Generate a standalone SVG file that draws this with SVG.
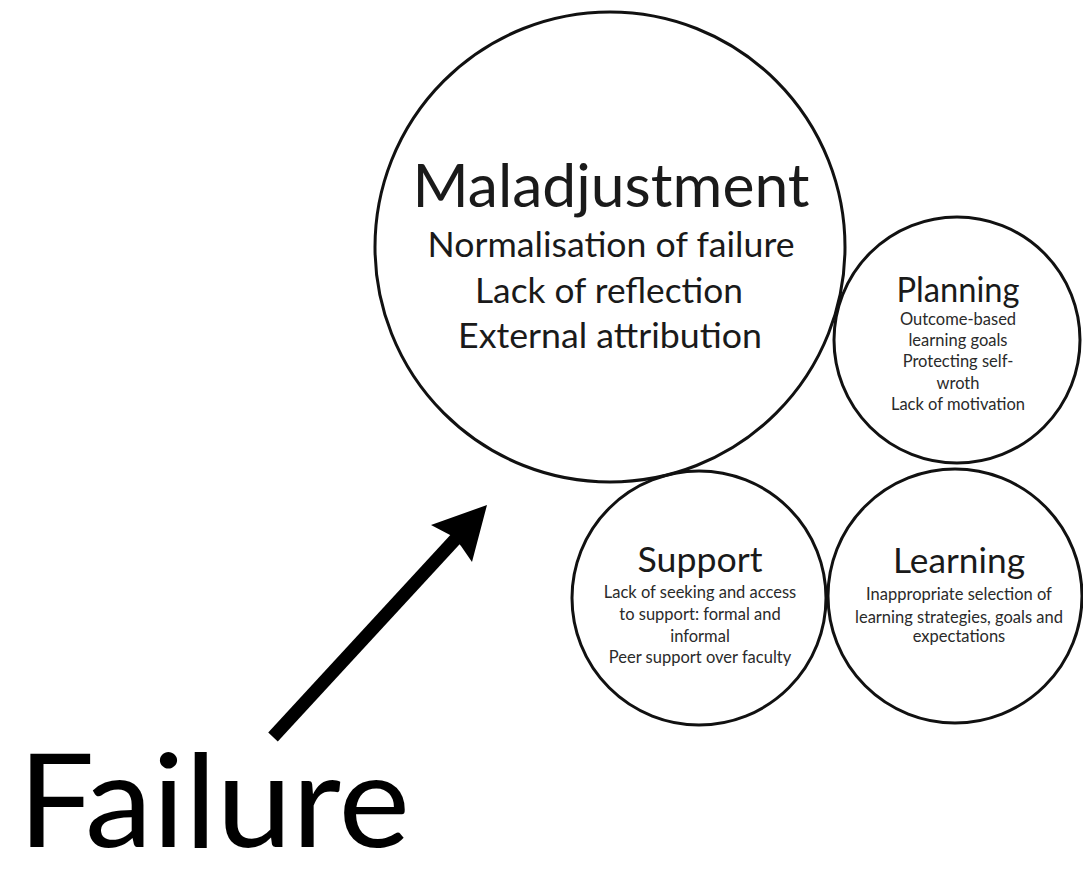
<svg xmlns="http://www.w3.org/2000/svg" width="1083" height="876" viewBox="0 0 1083 876">
<style>
.ring{fill:none;stroke:#111;stroke-width:3}
text{font-family:Lato,"Open Sans","Liberation Sans",sans-serif;text-anchor:middle;fill:#1a1a1a}
.big{font-size:60px}
.mid{font-size:34px}
.ttl{font-size:34px}
.sub{font-size:16.5px;fill:#2a2a2a}
</style>
<rect width="1083" height="876" fill="#fff"/>
<g id="connectors">
<line x1="273" y1="737" x2="462" y2="532" stroke="#000" stroke-width="13" stroke-linecap="butt"/>
<polygon points="487,505 431,525 452,536 461,546 472,562" fill="#000"/>
</g>
<g id="maladjustment">
<circle class="ring" cx="610" cy="247" r="235" stroke-width="2.5"/>
<text class="big" x="611" y="207" textLength="397" lengthAdjust="spacingAndGlyphs">Maladjustment</text>
<text class="mid" x="611" y="257" textLength="367" lengthAdjust="spacingAndGlyphs">Normalisation of failure</text>
<text class="mid" x="609" y="303" textLength="268" lengthAdjust="spacingAndGlyphs">Lack of reflection</text>
<text class="mid" x="610" y="348" textLength="304" lengthAdjust="spacingAndGlyphs">External attribution</text>
</g>
<g id="planning">
<circle class="ring" cx="957" cy="340" r="123"/>
<text class="ttl" x="958" y="302" textLength="123" lengthAdjust="spacingAndGlyphs">Planning</text>
<text class="sub" x="958" y="325">Outcome-based</text>
<text class="sub" x="958" y="346">learning goals</text>
<text class="sub" x="958" y="367">Protecting self-</text>
<text class="sub" x="958" y="389">wroth</text>
<text class="sub" x="958" y="410">Lack of motivation</text>
</g>
<g id="support">
<circle class="ring" cx="699" cy="598" r="127"/>
<text class="ttl" x="700" y="572" textLength="125" lengthAdjust="spacingAndGlyphs">Support</text>
<text class="sub" x="700" y="598">Lack of seeking and access</text>
<text class="sub" x="700" y="620">to support: formal and</text>
<text class="sub" x="700" y="642">informal</text>
<text class="sub" x="700" y="663">Peer support over faculty</text>
</g>
<g id="learning">
<circle class="ring" cx="955" cy="596" r="127"/>
<text class="ttl" x="959" y="573" textLength="132" lengthAdjust="spacingAndGlyphs">Learning</text>
<text class="sub" x="959" y="600">Inappropriate selection of</text>
<text class="sub" x="959" y="623">learning strategies, goals and</text>
<text class="sub" x="959" y="642">expectations</text>
</g>
<g id="failure">
<text x="214" y="847" textLength="392" lengthAdjust="spacingAndGlyphs" style="font-size:130px;fill:#000">Failure</text>
</g>
</svg>
